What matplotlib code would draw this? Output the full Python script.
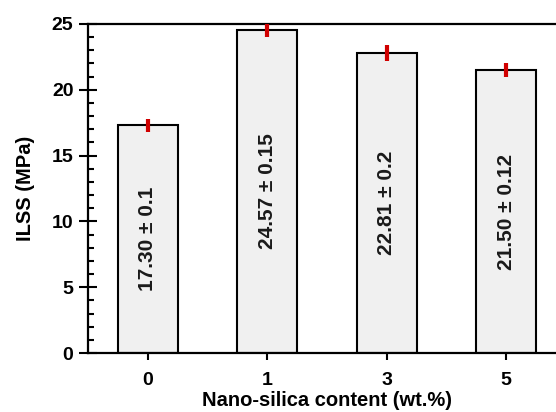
import matplotlib
matplotlib.use("Agg")
import matplotlib.pyplot as plt
from matplotlib.ticker import MultipleLocator

plt.rcParams['font.family'] = ['Liberation Sans', 'DejaVu Sans']

categories = ['0', '1', '3', '5']
ilss = [17.30, 24.57, 22.81, 21.50]
err_text = ['0.1', '0.15', '0.2', '0.12']
err_drawn = [0.5, 0.55, 0.6, 0.55]
value_text = ['17.30', '24.57', '22.81', '21.50']

fig = plt.figure(figsize=(5.56, 4.12), dpi=100)
ax = fig.add_axes([88/556, 59/412, 478/556, 329/412])

x = list(range(len(categories)))
ax.bar(x, ilss, width=0.5, color='#f0f0f0', edgecolor='black', linewidth=1.5, zorder=2)
ax.errorbar(x, ilss, yerr=err_drawn, fmt='none', ecolor='#d00000', elinewidth=3, capsize=0, zorder=3)

for xi, v, vt, et in zip(x, ilss, value_text, err_text):
    ax.text(xi, v / 2, f'{vt} \u00b1 {et}', rotation=90, ha='center', va='center',
            fontsize=15, fontweight='bold', color='#1a1a1a', zorder=4)

ax.set_xlim(-0.5, 3.5)
ax.set_ylim(0, 25)
ax.set_xticks(x)
ax.set_xticklabels(categories)
ax.yaxis.set_major_locator(MultipleLocator(5))
ax.yaxis.set_minor_locator(MultipleLocator(1))

ax.tick_params(axis='y', which='major', direction='inout', length=13, width=1.5,
               labelsize=14, pad=4)
ax.tick_params(axis='y', which='minor', direction='in', length=4, width=1.5)
ax.tick_params(axis='x', which='major', direction='out', length=5, width=1.5,
               labelsize=14, pad=9)
for lab in ax.get_xticklabels() + ax.get_yticklabels():
    lab.set_fontweight('bold')

for s in ['left', 'top', 'bottom']:
    ax.spines[s].set_linewidth(1.6)
ax.spines['right'].set_visible(False)

ax.set_xlabel('Nano-silica content (wt.%)', fontsize=14.5, fontweight='bold', labelpad=1)
ax.set_ylabel('ILSS (MPa)', fontsize=14.5, fontweight='bold', labelpad=12)

fig.savefig('out.png', dpi=100)
